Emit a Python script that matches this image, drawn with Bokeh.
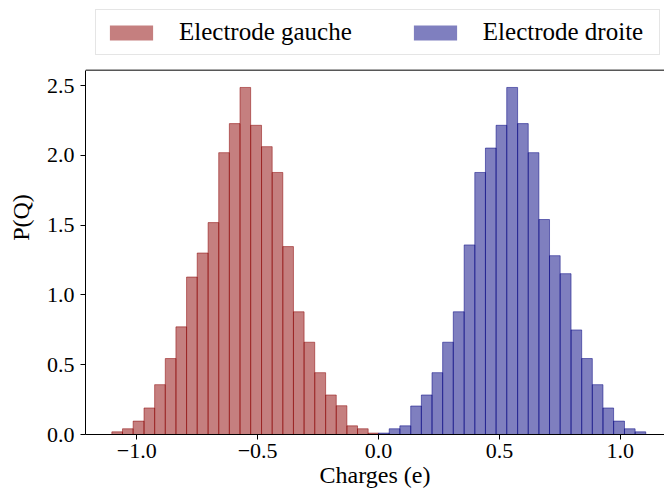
from bokeh.plotting import figure
from bokeh.models import (Legend, LegendItem, Span, FixedTicker, Range1d)
from bokeh.embed import file_html
from bokeh.resources import INLINE

# ---- data ----
red_edges = [-1.103, -1.059, -1.015, -0.970, -0.926, -0.882, -0.838, -0.794, -0.750,
             -0.705, -0.661, -0.617, -0.573, -0.529, -0.484, -0.440, -0.396, -0.352,
             -0.308, -0.264, -0.219, -0.175, -0.131, -0.087, -0.043, 0.001]
red_heights = [0.019, 0.041, 0.096, 0.190, 0.357, 0.544, 0.771, 1.128, 1.300, 1.518,
               2.019, 2.227, 2.486, 2.215, 2.062, 1.877, 1.346, 0.879, 0.661, 0.443,
               0.283, 0.206, 0.062, 0.041, 0.010]
blue_edges = [0.000, 0.044, 0.088, 0.133, 0.177, 0.221, 0.265, 0.309, 0.354, 0.398,
              0.442, 0.486, 0.530, 0.575, 0.619, 0.663, 0.707, 0.751, 0.796, 0.840,
              0.884, 0.928, 0.972, 1.017, 1.061, 1.105]
blue_heights = [0.010, 0.041, 0.062, 0.204, 0.283, 0.443, 0.661, 0.879, 1.358, 1.877,
                2.052, 2.215, 2.486, 2.227, 2.019, 1.540, 1.281, 1.152, 0.749, 0.544,
                0.357, 0.190, 0.096, 0.041, 0.019]
series_labels = ["Electrode gauche", "Electrode droite"]
x_ticks = [-1.0, -0.5, 0.0, 0.5, 1.0]
x_tick_labels = ["\u22121.0", "\u22120.5", "0.0", "0.5", "1.0"]
y_ticks = [0.0, 0.5, 1.0, 1.5, 2.0, 2.5]
y_tick_labels = ["0.0", "0.5", "1.0", "1.5", "2.0", "2.5"]

FONT = "Liberation Serif"
Y_TOP = 2.61       # top of the axes box (data units)
Y_VIEW = 3.109     # extra room above the box for the legend
NAN = float("nan")

p = figure(width=664, height=495, output_backend="svg", toolbar_location=None,
           x_range=Range1d(-1.212, 1.1825), y_range=Range1d(0, Y_VIEW),
           min_border_left=85, min_border_right=0, min_border_top=0,
           min_border_bottom=61)
p.outline_line_color = None
p.grid.visible = False
p.background_fill_color = "white"
p.border_fill_color = "white"

r_red = p.quad(left=red_edges[:-1], right=red_edges[1:], bottom=0, top=red_heights,
               fill_color="darkred", fill_alpha=0.5, line_color="darkred",
               line_alpha=0.5, line_width=1)
r_blue = p.quad(left=blue_edges[:-1], right=blue_edges[1:], bottom=0, top=blue_heights,
                fill_color="navy", fill_alpha=0.5, line_color="navy",
                line_alpha=0.5, line_width=1)

# legend swatches (fill only, like the reference legend patches); not drawn in the plot
sw_red = p.quad(left=[NAN], right=[NAN], bottom=[NAN], top=[NAN], fill_color="darkred",
                fill_alpha=0.5, line_color="darkred", line_alpha=0.0, line_width=1)
sw_blue = p.quad(left=[NAN], right=[NAN], bottom=[NAN], top=[NAN], fill_color="navy",
                 fill_alpha=0.5, line_color="navy", line_alpha=0.0, line_width=1)

for ax in (p.xaxis[0], p.yaxis[0]):
    ax.axis_line_color = "black"
    ax.axis_line_width = 1
    ax.major_tick_line_color = "black"
    ax.major_tick_out = 5
    ax.major_tick_in = 0
    ax.minor_tick_line_color = None
    ax.major_label_text_font = FONT
    ax.major_label_text_font_size = "22px"
    ax.major_label_text_color = "black"
    ax.axis_label_text_font = FONT
    ax.axis_label_text_font_size = "24px"
    ax.axis_label_text_font_style = "normal"
    ax.axis_label_text_color = "black"

p.xaxis.ticker = FixedTicker(ticks=x_ticks)
p.xaxis.major_label_overrides = dict(zip(x_ticks, x_tick_labels))
p.yaxis.ticker = FixedTicker(ticks=y_ticks)
p.yaxis.major_label_overrides = dict(zip(y_ticks, y_tick_labels))
p.yaxis.bounds = (0, Y_TOP)
p.xaxis.axis_label = "Charges (e)"
p.yaxis.axis_label = "P(Q)"
p.xaxis.major_label_standoff = 4
p.xaxis.axis_label_standoff = 1
p.yaxis.major_label_standoff = 6
p.yaxis.axis_label_standoff = 10

# top spine
p.add_layout(Span(location=Y_TOP, dimension="width", line_color="black", line_width=1))

legend = Legend(items=[LegendItem(label=series_labels[0], renderers=[sw_red]),
                       LegendItem(label=series_labels[1], renderers=[sw_blue])],
                orientation="horizontal", location=(10, 379),
                glyph_width=54, glyph_height=19, label_standoff=21, spacing=56,
                label_width=168, padding=8, margin=0,
                label_text_font=FONT, label_text_font_size="25px",
                label_text_color="black",
                border_line_color="#cccccc", border_line_width=1,
                background_fill_color="white", background_fill_alpha=1)
p.add_layout(legend, "center")

open("out.html", "w").write(file_html(p, INLINE))
